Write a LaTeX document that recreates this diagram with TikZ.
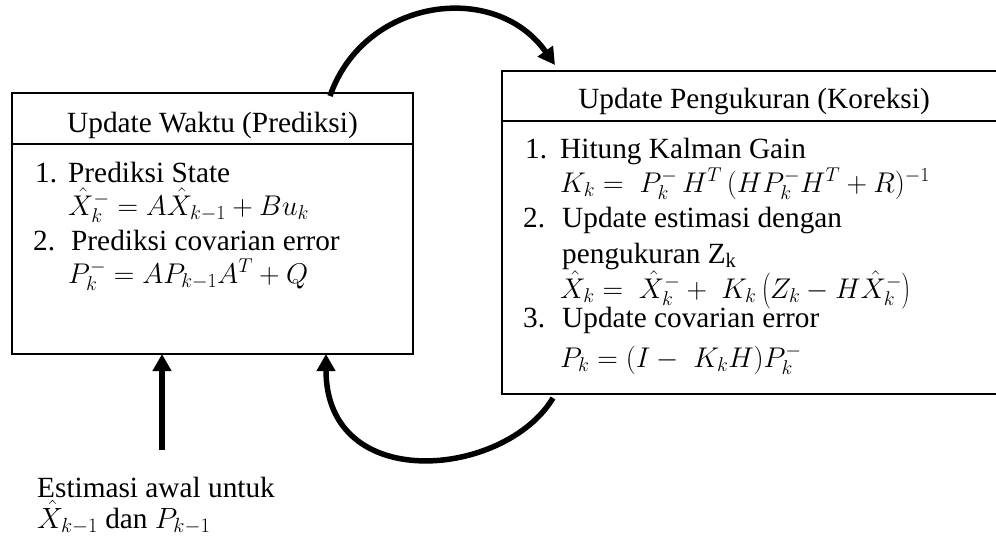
\RequirePackage{fix-cm}
\documentclass[tikz,border=0pt]{standalone}
\usepackage{fontspec}
\setmainfont{Liberation Serif}
\usetikzlibrary{arrows.meta}

\tikzset{
  box/.style={draw, line width=1.5pt, inner sep=0pt},
  rule/.style={line width=1.5pt},
  txt/.style={anchor=base west, inner sep=0pt, font=\fontsize{29.3}{34}\selectfont},
  eqn/.style={anchor=base west, inner sep=0pt, font=\fontsize{28.5}{33}\selectfont},
  ttl/.style={anchor=base, inner sep=0pt, font=\fontsize{29.3}{34}\selectfont},
  flow/.style={line width=5.5pt, -{Triangle[length=17pt,width=18pt]}}
}

\begin{document}
\begin{tikzpicture}[x=1pt,y=-1pt]
  \useasboundingbox (0,0) rectangle (996,541);

  % the two stages of the filter
  \node[box, minimum width=401pt, minimum height=261pt] (lbox) at (212.5,223.5) {};
  \node[box, minimum width=504pt, minimum height=323pt] (rbox) at (754,232.5) {};
  \draw[rule] (lbox.west |- 0,144) -- (lbox.east |- 0,144);
  \draw[rule] (rbox.west |- 0,121) -- (rbox.east |- 0,121);

  % time update
  \node[ttl] (lt) at (212.5,132) {Update Waktu (Prediksi)};
  \node[txt] (l1n) at (35,182) {1.};
  \node[txt] (l1) at (68,182) {Prediksi State};
  \node[eqn] (l1f) at (68,215) {$\hat{X}_k^- = A\hat{X}_{k-1} + Bu_k$};
  \node[txt] (l2n) at (33,250) {2.};
  \node[txt] (l2) at (71,250) {Prediksi covarian error};
  \node[eqn] (l2f) at (68,283) {$P_k^- = AP_{k-1}A^T + Q$};

  % measurement update
  \node[ttl] (rt) at (754,108) {Update Pengukuran (Koreksi)};
  \node[txt] (r1n) at (525,158) {1.};
  \node[txt] (r1) at (560,158) {Hitung Kalman Gain};
  \node[eqn] (r1f) at (560,192) {$K_k = \; P_k^-\, H^T\, (HP_k^-H^T + R)^{-1}$};
  \node[txt] (r2n) at (523,227) {2.};
  \node[txt] (r2) at (562,227) {Update estimasi dengan};
  \node[txt] (r2b) at (562,263) {pengukuran Z\textsubscript{k}};
  \node[eqn] (r2f) at (560,298) {$\hat{X}_k = \; \hat{X}_k^- + \; K_k\left(Z_k - H\hat{X}_k^-\right)$};
  \node[txt] (r3n) at (523,327) {3.};
  \node[txt] (r3) at (562,327) {Update covarian error};
  \node[eqn] (r3f) at (560,367) {$P_k = (I - \; K_kH)P_k^-$};

  % initial estimate
  \node[txt] (e1) at (37,497) {Estimasi awal untuk};
  \node[txt] (e2) at (37,528) {$\hat{X}_{k-1}$ dan $P_{k-1}$};

  % connector end points
  \coordinate (topA) at (330,96);
  \coordinate (topB) at (555,65);
  \coordinate (botA) at (553,398);
  \coordinate (botB) at (326,354);
  \coordinate (initA) at (162,450);
  \coordinate (initB) at (162,354);

  \draw[flow] (topA) .. controls (364,-2) and (495,-20) .. (topB);
  \draw[flow] (botA) .. controls (505,478) and (326,495) .. (botB);
  \draw[flow] (initA) -- (initB);
\end{tikzpicture}
\end{document}
